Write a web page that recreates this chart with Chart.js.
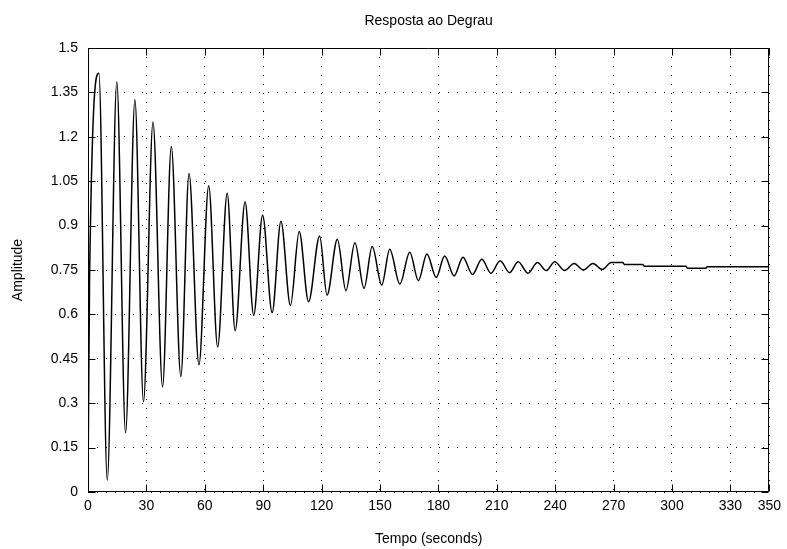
<!DOCTYPE html>
<html><head><meta charset="utf-8">
<script src="https://cdn.jsdelivr.net/npm/chart.js@4.4.0/dist/chart.umd.min.js"></script>
<style>html,body{margin:0;padding:0;background:#fff;}#wrap{width:787px;height:549px;}</style>
</head><body><div id="wrap"><canvas id="c" width="787" height="549"></canvas></div>
<script>
const chartTitle = "Resposta ao Degrau";
const xAxisTitle = "Tempo (seconds)";
const yAxisTitle = "Amplitude";
const xTickValues = [0, 30, 60, 90, 120, 150, 180, 210, 240, 270, 300, 330, 350];
const yTickValues = [0, 0.15, 0.3, 0.45, 0.6, 0.75, 0.9, 1.05, 1.2, 1.35, 1.5];
const yTickLabels = ["0", "0.15", "0.3", "0.45", "0.6", "0.75", "0.9", "1.05", "1.2", "1.35", "1.5"];
const times = [0, 0.8,
  5.6, 9.9, 14.8, 19.3, 24.1, 28.5, 33.4, 38.3, 42.8, 47.7, 51.9, 57.0, 62.0, 66.6,
  71.5, 75.6, 80.7, 85.1, 89.7, 94.6, 99.1, 104.0, 108.5, 113.3, 119.0, 122.8, 128.1, 132.5,
  137.1, 141.8, 146.0, 150.9, 155.0, 160.2, 165.3, 169.7, 174.1, 178.9, 183.2, 188.1, 192.6, 197.5,
  202.3, 207.0, 211.7, 216.6, 221.0, 226.0, 230.9, 235.4, 239.8, 244.8, 249.7, 254.5, 259.4, 264.2,
  268.8, 274.8, 275.5, 285, 285.7, 307.2, 307.9, 317.4, 318.1, 350];
const amplitude = [0, 0.72,
  1.415, 0.04, 1.386, 0.2, 1.325, 0.305, 1.25, 0.355, 1.167, 0.39, 1.076, 0.43, 1.035, 0.49,
  1.009, 0.545, 0.98, 0.597, 0.935, 0.606, 0.915, 0.63, 0.88, 0.643, 0.865, 0.665, 0.854, 0.68,
  0.842, 0.688, 0.829, 0.699, 0.82, 0.703, 0.81, 0.714, 0.804, 0.725, 0.797, 0.73, 0.793, 0.735,
  0.786, 0.739, 0.781, 0.741, 0.778, 0.739, 0.775, 0.748, 0.778, 0.748, 0.772, 0.75, 0.772, 0.752,
  0.775, 0.775, 0.769, 0.769, 0.763, 0.763, 0.756, 0.756, 0.761, 0.761];

const FONT = '"Liberation Sans", Arial, Helvetica, sans-serif';
const FSIZE = 14;
const points = times.map((t, i) => ({ x: t, y: amplitude[i] }));

const titlePlugin = {
  id: 'centeredTitle',
  afterDraw(chart) {
    const { ctx, chartArea: a } = chart;
    ctx.save();
    ctx.fillStyle = '#000';
    ctx.font = FSIZE + 'px ' + FONT;
    ctx.textAlign = 'center';
    ctx.textBaseline = 'middle';
    ctx.fillText(chartTitle, (a.left + a.right) / 2, 21);
    ctx.restore();
  }
};

const framePlugin = {
  id: 'matlabFrame',
  afterDatasetsDraw(chart) {
    const { ctx, chartArea: a, scales } = chart;
    const xs = scales.x, ys = scales.y;
    const L = Math.round(a.left) + 0.5, R = Math.round(a.right) - 0.5;
    const T = Math.round(a.top) + 0.5, B = Math.round(a.bottom) - 0.5;
    const tl = 7;
    ctx.save();
    ctx.strokeStyle = '#000';
    ctx.lineWidth = 1;
    ctx.setLineDash([]);
    ctx.beginPath();
    ctx.rect(L, T, R - L, B - T);
    xTickValues.forEach(v => {
      const px = Math.round(xs.getPixelForValue(v)) + 0.5;
      ctx.moveTo(px, B); ctx.lineTo(px, B - tl);
      ctx.moveTo(px, T); ctx.lineTo(px, T + tl);
    });
    yTickValues.forEach(v => {
      const py = Math.round(ys.getPixelForValue(v)) + 0.5;
      ctx.moveTo(L, py); ctx.lineTo(L + tl, py);
      ctx.moveTo(R, py); ctx.lineTo(R - tl, py);
    });
    ctx.stroke();
    ctx.restore();
  }
};

new Chart(document.getElementById('c'), {
  type: 'line',
  data: {
    datasets: [{
      data: points,
      borderColor: '#000',
      borderWidth: 1.5,
      pointRadius: 0,
      fill: false,
      cubicInterpolationMode: 'monotone'
    }]
  },
  options: {
    responsive: false,
    animation: false,
    devicePixelRatio: 1,
    layout: { padding: { left: 0, right: 15, top: 48, bottom: 0 } },
    plugins: {
      legend: { display: false },
      tooltip: { enabled: false },
      title: { display: false }
    },
    scales: {
      x: {
        type: 'linear', min: 0, max: 350,
        afterBuildTicks: s => { s.ticks = xTickValues.map(v => ({ value: v })); },
        afterFit: s => { s.height = 57; },
        ticks: { color: '#000', font: { family: FONT, size: FSIZE }, padding: 6, maxRotation: 0, autoSkip: false,
                 callback: v => String(v) },
        grid: { color: '#000', lineWidth: 1, drawTicks: false },
        border: { display: false, dash: [1, 8] },
        title: { display: true, text: xAxisTitle, color: '#000', font: { family: FONT, size: FSIZE }, padding: { top: 0, bottom: 1 } }
      },
      y: {
        type: 'linear', min: 0, max: 1.5,
        afterBuildTicks: s => { s.ticks = yTickValues.map(v => ({ value: v })); },
        afterFit: s => { s.width = 88; },
        ticks: { color: '#000', font: { family: FONT, size: FSIZE }, padding: 10, autoSkip: false,
                 callback: (v) => { const i = yTickValues.findIndex(t => Math.abs(t - v) < 1e-9); return i >= 0 ? yTickLabels[i] : ''; } },
        grid: { color: '#000', lineWidth: 1, drawTicks: false },
        border: { display: false, dash: [1, 8] },
        title: { display: true, text: yAxisTitle, color: '#000', font: { family: FONT, size: FSIZE }, padding: { top: 10, bottom: 0 } }
      }
    }
  },
  plugins: [framePlugin, titlePlugin]
});
</script>
</body></html>
